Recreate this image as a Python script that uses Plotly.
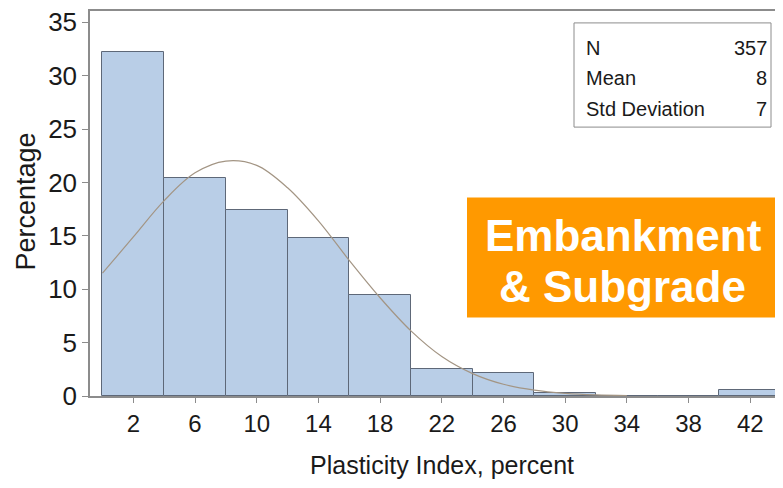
import plotly.graph_objects as go

# Histogram bins (midpoints) and percentages
bin_mid = [2, 6, 10, 14, 18, 22, 26, 30, 34, 38, 42]
pct = [32.2, 20.4, 17.4, 14.8, 9.5, 2.5, 2.2, 0.3, 0.0, 0.0, 0.6]

# Fitted normal curve
curve_x = [0, 2, 4, 6, 8, 10, 12, 14, 16, 18, 20, 22, 24, 26, 28, 30, 32, 34]
curve_y = [11.5, 14.9, 18.3, 20.9, 22.0, 21.6, 19.5, 16.4, 12.7, 9.2, 6.1, 3.7, 2.1, 1.1, 0.55, 0.25, 0.1, 0.04]

tick_vals = [2, 6, 10, 14, 18, 22, 26, 30, 34, 38, 42]
tick_text = ["2", "6", "10", "14", "18", "22", "26", "30", "34", "38", "42"]
y_ticks = [0, 5, 10, 15, 20, 25, 30, 35]

stat_labels = ["N", "Mean", "Std Deviation"]
stat_values = ["357", "8", "7"]

OFF = 8  # browser body margin
W, H = 783 - OFF, 488 - OFF
# plot area in viewport pixels
VL, VR, VT, VB = 90, 782, 8, 396
L, R, T, B = VL - OFF, VR - OFF, VT - OFF, VB - OFF
FONT = "Liberation Sans, Arial, sans-serif"

def px(x):
    return (x - VL) / (VR - VL)

def py(y):
    return (VB - y) / (VB - VT)

fig = go.Figure()
fig.add_trace(go.Bar(
    x=bin_mid, y=pct, width=4,
    marker=dict(color="#B9CEE7", line=dict(color="#5E6878", width=1)),
    showlegend=False, hoverinfo="skip"))
fig.add_trace(go.Scatter(
    x=curve_x, y=curve_y, mode="lines",
    line=dict(color="#A39584", width=1.2, shape="spline"),
    showlegend=False, hoverinfo="skip"))

# Stats box
fig.add_shape(type="rect", xref="paper", yref="paper",
              x0=px(574), x1=px(771), y0=py(125), y1=py(20),
              line=dict(color="#8C8C8C", width=1), fillcolor="white")
rows_y = [45, 76, 107]
for lab, val, yy in zip(stat_labels, stat_values, rows_y):
    fig.add_annotation(xref="paper", yref="paper", x=px(584), y=py(yy),
                       text=lab, showarrow=False, xanchor="left", yanchor="middle",
                       font=dict(family=FONT, size=20, color="#1a1a1a"))
    fig.add_annotation(xref="paper", yref="paper", x=px(769), y=py(yy),
                       text=val, showarrow=False, xanchor="right", yanchor="middle",
                       font=dict(family=FONT, size=20, color="#1a1a1a"))

# Orange label box
fig.add_shape(type="rect", xref="paper", yref="paper",
              x0=px(467), x1=px(778), y0=py(317), y1=py(196),
              line=dict(width=0), fillcolor="#FF9900")
fig.add_annotation(xref="paper", yref="paper", x=px(623), y=py(234),
                   text="<b>Embankment</b>", showarrow=False,
                   xanchor="center", yanchor="middle",
                   font=dict(family=FONT, size=44, color="white"))
fig.add_annotation(xref="paper", yref="paper", x=px(622), y=py(286),
                   text="<b>&amp; Subgrade</b>", showarrow=False,
                   xanchor="center", yanchor="middle",
                   font=dict(family=FONT, size=44, color="white"))

# Axis titles
fig.add_annotation(xref="paper", yref="paper", x=px(442), y=py(466),
                   text="Plasticity Index, percent", showarrow=False,
                   xanchor="center", yanchor="middle",
                   font=dict(family=FONT, size=25, color="#1a1a1a"))
fig.add_annotation(xref="paper", yref="paper", x=px(26), y=py(200),
                   text="Percentage", showarrow=False, textangle=-90,
                   xanchor="center", yanchor="middle",
                   font=dict(family=FONT, size=27, color="#1a1a1a"))

fig.update_layout(
    width=W, height=H,
    margin=dict(l=L, r=W - R, t=T, b=H - B, pad=0),
    paper_bgcolor="white", plot_bgcolor="white",
    bargap=0,
    xaxis=dict(range=[-0.81, 44.06], tickvals=tick_vals, ticktext=tick_text,
               showgrid=False, zeroline=False, showline=True, linecolor="#8C8C8C",
               linewidth=1.5, mirror=True, ticks="outside", ticklen=5, tickcolor="#8C8C8C",
               ticklabeloverflow="allow",
               tickfont=dict(family=FONT, size=24, color="#1a1a1a")),
    yaxis=dict(range=[0, 36.06], tickvals=y_ticks,
               showgrid=False, zeroline=False, showline=True, linecolor="#8C8C8C",
               linewidth=1.5, ticks="outside", ticklen=6, tickcolor="#8C8C8C",
               ticklabeloverflow="allow",
               tickfont=dict(family=FONT, size=26, color="#1a1a1a")),
)

fig.write_html("out.html")
